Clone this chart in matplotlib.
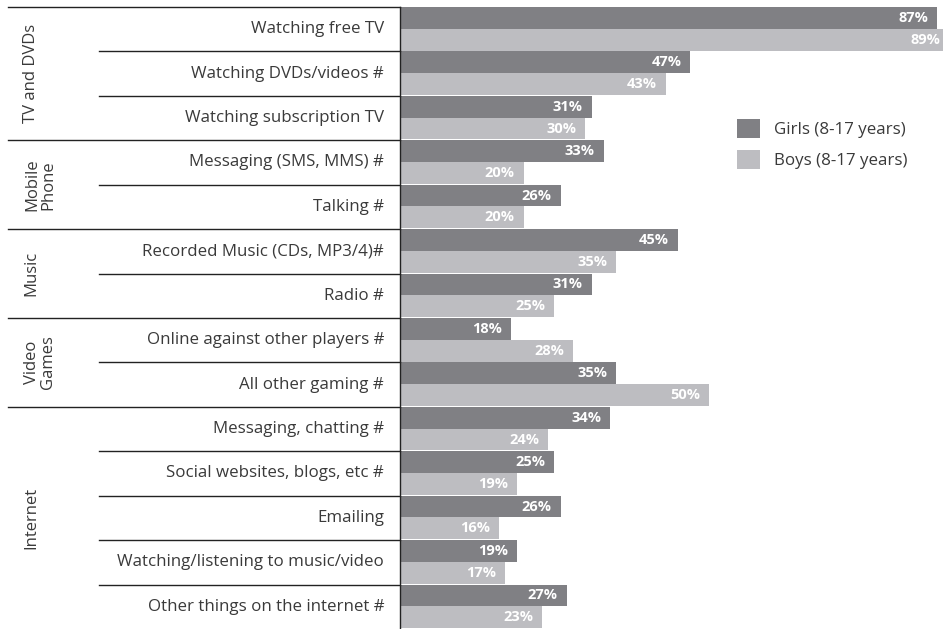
import matplotlib.pyplot as plt

activities = [
    "Watching free TV",
    "Watching DVDs/videos #",
    "Watching subscription TV",
    "Messaging (SMS, MMS) #",
    "Talking #",
    "Recorded Music (CDs, MP3/4)#",
    "Radio #",
    "Online against other players #",
    "All other gaming #",
    "Messaging, chatting #",
    "Social websites, blogs, etc #",
    "Emailing",
    "Watching/listening to music/video",
    "Other things on the internet #",
]
girls = [87, 47, 31, 33, 26, 45, 31, 18, 35, 34, 25, 26, 19, 27]
boys = [89, 43, 30, 20, 20, 35, 25, 28, 50, 24, 19, 16, 17, 23]

groups = ["TV and DVDs", "Mobile\nPhone", "Music", "Video\nGames", "Internet"]
group_sizes = [3, 2, 2, 2, 5]

DARK = "#808084"
LIGHT = "#bdbdc1"
TEXT = "#3a3a3a"

plt.rcParams['font.family'] = ['Open Sans', 'DejaVu Sans']

W, H = 943, 629
fig = plt.figure(figsize=(W / 100, H / 100), dpi=100)
x0, top = 400, 7
ax = fig.add_axes([x0 / W, 0, (W - x0) / W, (H - top) / H])

n = len(activities)
bh = 0.49
ys = list(range(n))
ax.barh([y + bh / 2 for y in ys], girls, height=bh, color=DARK, label="Girls (8-17 years)")
ax.barh([y + bh * 1.5 for y in ys], boys, height=bh, color=LIGHT, label="Boys (8-17 years)")

ax.set_xlim(0, 87.9)
ax.set_ylim(n, 0)
ax.axis("off")

trans = ax.get_yaxis_transform()
ax.plot([0, 0], [0, n], color="#222222", lw=1, transform=trans, clip_on=False)

px = 1 / (W - x0)
pad = 9 / 6.18  # about 9 px inside the bar end, in percent units
for y, g, b in zip(ys, girls, boys):
    ax.text(g - pad, y + bh / 2, "%d%%" % g, ha="right", va="center",
            color="white", fontsize=10.5, fontweight="bold")
    ax.text(b - pad, y + bh * 1.5, "%d%%" % b, ha="right", va="center",
            color="white", fontsize=10.5, fontweight="bold")
    ax.text(-16 * px, y + 0.5, activities[y], ha="right", va="center", color=TEXT,
            fontsize=12.2, transform=trans)

# separators: full width between groups, shorter between activities
bounds = [0]
for s in group_sizes:
    bounds.append(bounds[-1] + s)
for y in range(n):
    if y in bounds:
        xs = (8 - x0) * px
    else:
        xs = (99 - x0) * px
    ax.plot([xs, 0], [y, y], color="#222222", lw=1, transform=trans, clip_on=False)

for name, a, b in zip(groups, bounds[:-1], bounds[1:]):
    xc = 40 if "\n" in name else 31
    ax.text((xc - x0) * px, (a + b) / 2, name, rotation=90, ha="center", va="center",
            color=TEXT, fontsize=12, linespacing=1.0, transform=trans)

leg = ax.legend(loc="upper left",
                bbox_to_anchor=((737 - x0) * px, 1 - (119 - top) / (H - top)),
                frameon=False, fontsize=12.2, borderpad=0, borderaxespad=0,
                handlelength=1.35, handleheight=1.35, handletextpad=0.85,
                labelspacing=0.7)
for t in leg.get_texts():
    t.set_color(TEXT)

fig.savefig("out.png", dpi=100)
